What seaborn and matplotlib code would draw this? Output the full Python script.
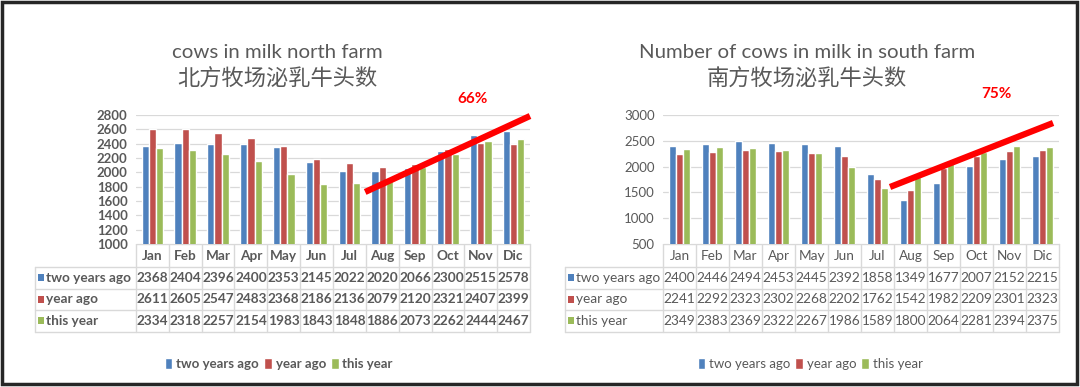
import numpy as np
import pandas as pd
import matplotlib
matplotlib.use("Agg")
import matplotlib.pyplot as plt
import matplotlib.transforms as mtransforms
from matplotlib.patches import Rectangle
import seaborn as sns

# ── data ─────────────────────────────────────────────────────────────
months = ["Jan", "Feb", "Mar", "Apr", "May", "Jun", "Jul", "Aug", "Sep", "Oct", "Nov", "Dic"]
series = ["two years ago", "year ago", "this year"]

north_two_years_ago = [2368, 2404, 2396, 2400, 2353, 2145, 2022, 2020, 2066, 2300, 2515, 2578]
north_year_ago = [2611, 2605, 2547, 2483, 2368, 2186, 2136, 2079, 2120, 2321, 2407, 2399]
north_this_year = [2334, 2318, 2257, 2154, 1983, 1843, 1848, 1886, 2073, 2262, 2444, 2467]

south_two_years_ago = [2400, 2446, 2494, 2453, 2445, 2392, 1858, 1349, 1677, 2007, 2152, 2215]
south_year_ago = [2241, 2292, 2323, 2302, 2268, 2202, 1762, 1542, 1982, 2209, 2301, 2323]
south_this_year = [2349, 2383, 2369, 2322, 2267, 1986, 1589, 1800, 2064, 2281, 2394, 2375]

north_title = ("cows in milk north farm", "北方牧场泌乳牛头数")
south_title = ("Number of cows in milk in south farm", "南方牧场泌乳牛头数")
north_growth = "66%"
south_growth = "75%"

colors = ["#4F81BD", "#C0504D", "#9BBB59"]
GRAY = "#595959"
GRID = "#D9D9D9"

sns.set_theme(style="white")
plt.rcParams["font.family"] = ["Lato", "Noto Sans CJK SC", "DejaVu Sans"]

W, H = 1080, 387
fig = plt.figure(figsize=(W / 100, H / 100), dpi=100)

# full-figure overlay in pixel units for table frame and border
overlay = fig.add_axes([0, 0, 1, 1], zorder=-1)
overlay.set_xlim(0, W)
overlay.set_ylim(H, 0)
overlay.axis("off")
overlay.add_patch(Rectangle((2, 2), W - 5, H - 5, fill=False, edgecolor="#262626", lw=2.5))


def to_frame(values_by_series):
    rows = []
    for name, vals in zip(series, values_by_series):
        for m, v in zip(months, vals):
            rows.append({"month": m, "series": name, "value": v})
    return pd.DataFrame(rows)


def draw_panel(px_left, px_right, values_by_series, title, ylim, ystep,
               table_left, bold, trend, growth, growth_pos, title_cx, legend_cx):
    weight = "bold" if bold else "normal"
    top, bottom = 115, 244
    ax = fig.add_axes([px_left / W, 1 - bottom / H, (px_right - px_left) / W, (bottom - top) / H])
    df = to_frame(values_by_series)
    sns.barplot(data=df, x="month", y="value", hue="series", order=months,
                hue_order=series, palette=colors, width=0.66, saturation=1,
                ax=ax, zorder=3)
    ax.set_xlim(-0.5, 11.5)
    ax.set_ylim(*ylim)
    ax.set_yticks(np.arange(ylim[0], ylim[1] + 1, ystep))
    ax.set_xlabel("")
    ax.set_ylabel("")
    ax.set_xticks([])
    ax.tick_params(axis="y", length=0, pad=6, labelsize=9.5, labelcolor=GRAY)
    for lab in ax.get_yticklabels():
        lab.set_fontweight(weight)
    for s in ax.spines.values():
        s.set_visible(False)
    ax.grid(axis="y", color=GRID, lw=0.9, zorder=0)
    ax.set_axisbelow(True)

    # trend line and growth label
    (x0, y0), (x1, y1) = trend
    ax.plot([x0, x1], [y0, y1], color="#FF0000", lw=4.5, solid_capstyle="butt",
            clip_on=False, zorder=5)
    ax.text(growth_pos[0], growth_pos[1], growth, color="#FF0000", fontsize=11,
            fontweight="bold", ha="center", va="center", clip_on=False)

    # two-line title
    fig.text(title_cx / W, 1 - 53 / H, title[0], ha="center", va="center",
             color=GRAY, fontsize=14.7)
    fig.text(title_cx / W, 1 - 79 / H, title[1], ha="center", va="center",
             color=GRAY, fontsize=16)

    # legend
    sns.move_legend(ax, "center",
                    bbox_to_anchor=((legend_cx - px_left) / (px_right - px_left),
                                    (bottom - 364) / (bottom - top)),
                    ncol=3, frameon=False, title=None, handlelength=0.55, handleheight=0.9,
                    handletextpad=0.3, columnspacing=0.4, fontsize=9.5)
    for t in ax.get_legend().get_texts():
        t.set_color(GRAY)
        t.set_fontweight(weight)

    # data table under the axis
    bt = mtransforms.blended_transform_factory(ax.transData, overlay.transData)
    row_edges = [244, 267, 288.5, 310, 331.5]
    for i in range(13):
        overlay.plot([i - 0.5, i - 0.5], [row_edges[0], row_edges[-1]], color=GRID, lw=1, transform=bt)
    overlay.plot([-0.5, 11.5], [row_edges[0]] * 2, color=GRID, lw=1, transform=bt)
    for y in row_edges[1:]:
        overlay.plot([table_left, px_right], [y, y], color=GRID, lw=1)
    overlay.plot([table_left, table_left], [row_edges[1], row_edges[-1]], color=GRID, lw=1)
    for i, m in enumerate(months):
        overlay.text(i, (row_edges[0] + row_edges[1]) / 2, m, transform=bt, ha="center",
                     va="center", fontsize=9.8, color=GRAY, fontweight=weight)
    for r, (name, vals) in enumerate(zip(series, values_by_series)):
        yc = (row_edges[r + 1] + row_edges[r + 2]) / 2
        overlay.add_patch(Rectangle((table_left + 3, yc - 3.5), 6, 7, color=colors[r], lw=0))
        overlay.text(table_left + 11, yc, name, ha="left", va="center", fontsize=9.8,
                     color=GRAY, fontweight=weight)
        for i, v in enumerate(vals):
            overlay.text(i, yc, str(v), transform=bt, ha="center", va="center",
                         fontsize=9.8, color=GRAY, fontweight=weight)
    return ax


draw_panel(136, 530, [north_two_years_ago, north_year_ago, north_this_year],
           north_title, (1000, 2800), 200, 35, True,
           ((6.48, 1726), (11.5, 2786)), north_growth, (9.76, 3023), 277, 279)
draw_panel(663, 1059, [south_two_years_ago, south_year_ago, south_this_year],
           south_title, (500, 3000), 500, 565, False,
           ((6.38, 1605), (11.32, 2845)), south_growth, (9.59, 3407), 807, 810)

fig.savefig("out.png", dpi=100)
